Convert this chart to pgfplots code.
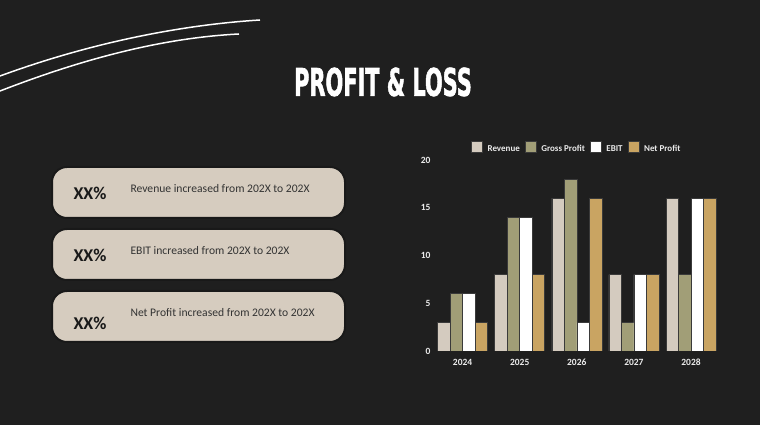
\documentclass[border=0pt]{standalone}
\usepackage{pgfplots}
\pgfplotsset{compat=1.18}
\usepackage{graphicx}
\usepackage{fontspec}
\setmainfont{Carlito}
\newfontfamily\titlefont{DejaVu Sans}[FakeBold=2]
\definecolor{bg}{HTML}{1F1F1F}
\definecolor{crev}{HTML}{D4CBBF}
\definecolor{cgp}{HTML}{A19E77}
\definecolor{cebit}{HTML}{FFFFFF}
\definecolor{cnp}{HTML}{C9A462}
\definecolor{boxfill}{HTML}{D6CCBF}
\definecolor{barline}{HTML}{3A3A3A}
\begin{document}
\begin{tikzpicture}
\fill[bg] (0pt,0pt) rectangle (760pt,425pt);
\useasboundingbox (0pt,0pt) rectangle (760pt,425pt);
% decorative lines
\draw[white,line width=1.5pt] (0pt,349pt) .. controls (90pt,382pt) and (180pt,400pt) .. (260pt,405pt);
\draw[white,line width=1.5pt] (0pt,334pt) .. controls (80pt,365pt) and (160pt,387pt) .. (239pt,391pt);
% title
\node[white] at (383pt,343pt) {\scalebox{0.55}[1]{\titlefont\bfseries\fontsize{38}{38}\selectfont PROFIT \& LOSS}};
% boxes
\foreach \yb in {207,145,83}{
  \draw[fill=boxfill,draw=black!90,line width=2pt,rounded corners=15pt] (52pt,\yb pt) rectangle (345pt,\yb pt+51pt);
}
\node[anchor=west,text=black!90,font=\fontsize{18}{18}\selectfont\bfseries] at (70pt,232pt) {XX\%};
\node[anchor=west,text=black!80,font=\fontsize{11.6}{11.6}\selectfont] at (127pt,236pt) {Revenue increased from 202X to 202X};
\node[anchor=west,text=black!90,font=\fontsize{18}{18}\selectfont\bfseries] at (70pt,170pt) {XX\%};
\node[anchor=west,text=black!80,font=\fontsize{11.6}{11.6}\selectfont] at (127pt,174pt) {EBIT increased from 202X to 202X};
\node[anchor=west,text=black!90,font=\fontsize{18}{18}\selectfont\bfseries] at (70pt,102pt) {XX\%};
\node[anchor=west,text=black!80,font=\fontsize{11.6}{11.6}\selectfont] at (127pt,112pt) {Net Profit increased from 202X to 202X};
% chart
\begin{axis}[
  at={(434pt,74pt)}, anchor=south west,
  scale only axis, width=285.6pt, height=191pt,
  xmin=-0.5, xmax=4.5, ymin=0, ymax=20,
  ybar=0pt, bar width=12.5pt,
  xtick={0,1,2,3,4}, xticklabels={2024,2025,2026,2027,2028},
  ytick={0,5,10,15,20},
  axis line style={draw=none}, tick style={draw=none},
  ticklabel style={text=white!92!black,font=\fontsize{9.5}{9.5}\selectfont\bfseries},
  /pgf/number format/assume math mode=true,
  legend style={at={(0.5,1.015)},anchor=south,draw=none,fill=none,
    text=white!92!black,font=\fontsize{9}{9}\selectfont\bfseries,
    legend columns=4, column sep=3pt},
  legend image code/.code={\draw[#1,draw=barline] (0pt,-3.5pt) rectangle (11pt,7.5pt);},
]
\addplot[fill=crev,draw=barline] coordinates {(0,3) (1,8) (2,16) (3,8) (4,16)};
\addplot[fill=cgp,draw=barline] coordinates {(0,6) (1,14) (2,18) (3,3) (4,8)};
\addplot[fill=cebit,draw=barline] coordinates {(0,6) (1,14) (2,3) (3,8) (4,16)};
\addplot[fill=cnp,draw=barline] coordinates {(0,3) (1,8) (2,16) (3,8) (4,16)};
\legend{Revenue,Gross Profit,EBIT,Net Profit}
\end{axis}
\end{tikzpicture}
\end{document}
